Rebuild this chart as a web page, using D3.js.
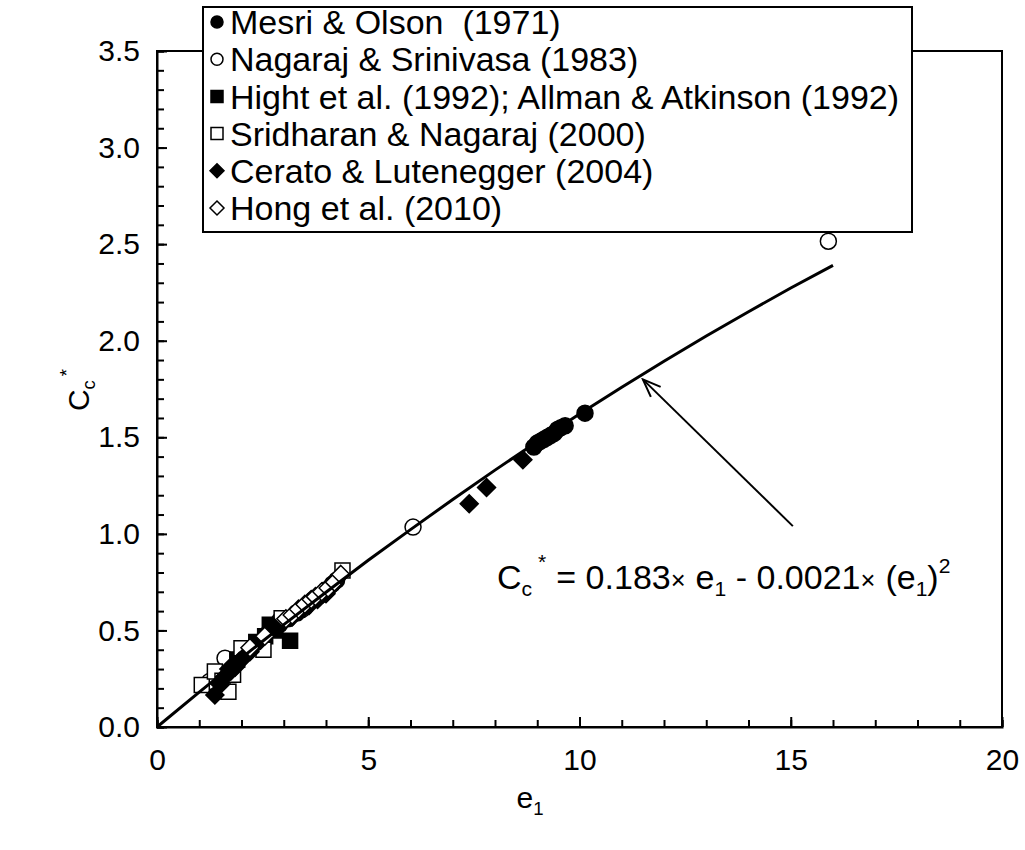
<!DOCTYPE html>
<html><head><meta charset="utf-8">
<script src="https://cdn.jsdelivr.net/npm/d3@7"></script>
<style>body{margin:0;background:#fff}svg{display:block}text{font-family:"Liberation Sans",Arial,sans-serif;fill:#000;white-space:pre}</style>
</head><body>
<svg id="c" width="1025" height="850"></svg>
<script>
// ---- data ----
const seriesNames = ["Mesri & Olson  (1971)","Nagaraj & Srinivasa (1983)","Hight et al. (1992); Allman & Atkinson (1992)","Sridharan & Nagaraj (2000)","Cerato & Lutenegger (2004)","Hong et al. (2010)"];
const mesri = [[2.9,0.53],[3.1,0.56],[3.3,0.59],[3.5,0.62],[3.7,0.66],[3.85,0.68],[4.0,0.71],[4.15,0.74],[4.25,0.76],[8.92,1.45],[9.0,1.47],[9.08,1.48],[9.16,1.49],[9.24,1.5],[9.32,1.51],[9.4,1.52],[9.48,1.54],[9.56,1.55],[9.66,1.56],[10.13,1.625]];
const nagaraj = [[1.24,0.235],[1.61,0.356],[2.9,0.55],[3.42,0.607],[6.06,1.035],[15.89,2.515]];
const hight = [[1.9,0.35],[2.35,0.44],[2.56,0.47],[2.67,0.53],[2.8,0.5],[3.15,0.446]];
const sridharan = [[1.06,0.218],[1.37,0.287],[1.55,0.24],[1.69,0.183],[1.8,0.27],[2.0,0.408],[2.52,0.40],[2.95,0.563],[4.39,0.81]];
const cerato = [[1.37,0.166],[1.5,0.22],[1.6,0.26],[1.7,0.3],[1.75,0.29],[1.85,0.31],[1.95,0.34],[2.05,0.36],[2.2,0.39],[2.3,0.42],[2.45,0.45],[2.6,0.49],[2.75,0.52],[3.2,0.57],[3.4,0.6],[3.6,0.63],[3.8,0.66],[4.0,0.69],[4.1,0.72],[7.39,1.156],[7.8,1.24],[8.66,1.384]];
const hong = [[2.2,0.41],[2.55,0.47],[3.05,0.56],[3.2,0.58],[3.35,0.61],[3.5,0.635],[3.65,0.66],[3.75,0.675],[3.9,0.7],[4.05,0.72],[4.2,0.75],[4.35,0.79]];
const fitE  = [0,1,2,3,4,5,6,7,8,9,10,11,12,13,14,15,16];
const fitCc = [0,0.181,0.358,0.530,0.698,0.863,1.022,1.178,1.330,1.477,1.620,1.759,1.894,2.024,2.150,2.273,2.390];
const xMajor = [0,5,10,15,20];
const yMajor = [0,0.5,1.0,1.5,2.0,2.5,3.0,3.5];
const arrowFrom = [15.05,1.04], arrowTo = [11.5,1.80];

// ---- chart ----
const svg = d3.select("#c");
const L=157,R=1002,T=51,B=727;
const x = d3.scaleLinear().domain([0,20]).range([L,R]);
const y = d3.scaleLinear().domain([0,3.5]).range([B,T]);
const FS = 30, FL = 34, FE = 34;

// frame
svg.append("rect").attr("x",L).attr("y",T).attr("width",R-L).attr("height",B-T).attr("fill","none").attr("stroke","#000").attr("stroke-width",2);

// axes
const xMinor = d3.range(0,21,1), yMinor = d3.range(0,36,1).map(d=>d/10);
svg.append("g").attr("transform",`translate(0,${B})`).call(d3.axisBottom(x).tickValues(xMinor).tickSize(-7).tickFormat("")).call(g=>g.select(".domain").attr("stroke-width",2)).selectAll("line").attr("stroke-width",2);
svg.append("g").attr("transform",`translate(0,${B})`).call(d3.axisBottom(x).tickValues(xMajor).tickSize(-10).tickPadding(22).tickFormat(d3.format("d"))).call(g=>{g.select(".domain").remove();g.selectAll("line").attr("stroke-width",2);g.selectAll("text").attr("font-size",FS).attr("font-family","Liberation Sans, Arial");});
svg.append("g").attr("transform",`translate(${L},0)`).call(d3.axisLeft(y).tickValues(yMinor).tickSize(-7).tickFormat("")).call(g=>g.select(".domain").attr("stroke-width",2)).selectAll("line").attr("stroke-width",2);
svg.append("g").attr("transform",`translate(${L},0)`).call(d3.axisLeft(y).tickValues(yMajor).tickSize(-10).tickPadding(17).tickFormat(d3.format(".1f"))).call(g=>{g.select(".domain").remove();g.selectAll("line").attr("stroke-width",2);g.selectAll("text").attr("font-size",FS).attr("font-family","Liberation Sans, Arial");});

// markers
const sym = {
  circle: s => d3.symbol(d3.symbolCircle, s*s*Math.PI/4)(),
  square: s => `M${-s/2},${-s/2}H${s/2}V${s/2}H${-s/2}Z`,
  diamond: s => `M0,${-s/2}L${s/2},0L0,${s/2}L${-s/2},0Z`
};
const styles = [
  {d:mesri, shape:"circle", fill:"#000"},
  {d:nagaraj, shape:"circle", fill:"#fff"},
  {d:hight, shape:"square", fill:"#000"},
  {d:sridharan, shape:"square", fill:"#fff"},
  {d:cerato, shape:"diamond", fill:"#000"},
  {d:hong, shape:"diamond", fill:"#fff"}
];
const sizes = {circle:16, square:15, diamond:18};
const gPts = svg.append("g");
styles.forEach(st=>{
  gPts.selectAll(null).data(st.d).enter().append("path")
    .attr("d",sym[st.shape](sizes[st.shape]))
    .attr("transform",d=>`translate(${x(d[0])},${y(d[1])})`)
    .attr("fill",st.fill).attr("stroke","#000").attr("stroke-width",1.5);
});

// fitted curve
const line = d3.line().x((d,i)=>x(fitE[i])).y(d=>y(d));
svg.append("path").attr("d",line(fitCc)).attr("fill","none").attr("stroke","#000").attr("stroke-width",3);

// arrow
const defs = svg.append("defs");
defs.append("marker").attr("id","ah").attr("viewBox","-20 -10 22 20").attr("refX",0).attr("refY",0)
  .attr("markerWidth",22).attr("markerHeight",20).attr("markerUnits","userSpaceOnUse").attr("orient","auto")
  .append("path").attr("d","M-18,-7L0,0L-18,7").attr("fill","none").attr("stroke","#000").attr("stroke-width",2);
svg.append("line").attr("x1",x(arrowFrom[0])).attr("y1",y(arrowFrom[1])).attr("x2",x(arrowTo[0])).attr("y2",y(arrowTo[1]))
  .attr("stroke","#000").attr("stroke-width",2).attr("marker-end","url(#ah)");

// equation
const sub = 0.62;
const eq = svg.append("text").attr("x",497).attr("y",589).attr("font-size",FE);
eq.append("tspan").text("C");
eq.append("tspan").attr("font-size",FE*sub).attr("dy",7).text("c");
eq.append("tspan").attr("font-size",FE*sub).attr("dy",-27).attr("dx",6).text("*");
eq.append("tspan").attr("dy",20).attr("dx",10).text("= 0.183");
eq.append("tspan").attr("font-size",FE*0.75).text("×");
eq.append("tspan").attr("dx",10).text("e");
eq.append("tspan").attr("font-size",FE*sub).attr("dy",7).text("1");
eq.append("tspan").attr("dy",-7).text(" - 0.0021");
eq.append("tspan").attr("font-size",FE*0.75).text("×");
eq.append("tspan").attr("dx",10).text("(e");
eq.append("tspan").attr("font-size",FE*sub).attr("dy",7).text("1");
eq.append("tspan").attr("dy",-7).text(")");
eq.append("tspan").attr("font-size",FE*sub).attr("dy",-16).text("2");

// axis titles
const xt = svg.append("text").attr("x",530).attr("y",808).attr("text-anchor","middle").attr("font-size",FS);
xt.append("tspan").text("e");
xt.append("tspan").attr("font-size",FS*0.62).attr("dy",7).text("1");
const yt = svg.append("text").attr("transform","translate(89,390) rotate(-90)").attr("text-anchor","middle").attr("font-size",FS);
yt.append("tspan").text("C");
yt.append("tspan").attr("font-size",FS*0.62).attr("dy",6).text("c");
yt.append("tspan").attr("font-size",FS*0.62).attr("dy",-22).attr("dx",4).text("*");

// legend
const lg = svg.append("g");
lg.append("rect").attr("x",203).attr("y",7).attr("width",709).attr("height",225).attr("fill","#fff").attr("stroke","#000").attr("stroke-width",2);
const legY = d3.scaleLinear().domain([0,5]).range([22,208]);
styles.forEach((st,i)=>{
  lg.append("path").attr("d",sym[st.shape](st.shape==="diamond"?14:12)).attr("transform",`translate(217,${legY(i)})`)
    .attr("fill",st.fill).attr("stroke","#000").attr("stroke-width",1.5);
  lg.append("text").attr("x",230).attr("y",legY(i)).attr("dy","0.36em").attr("font-size",FL).text(seriesNames[i]);
});
</script>
</body></html>
